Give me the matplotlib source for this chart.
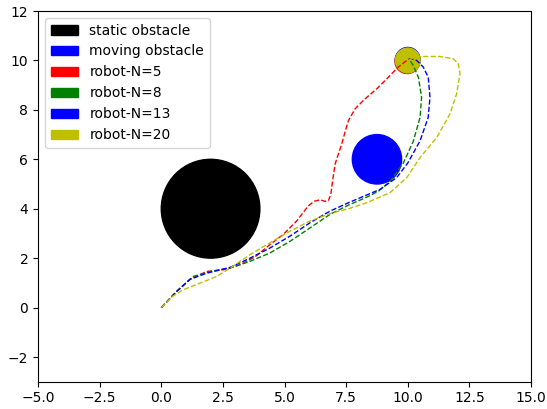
import matplotlib
matplotlib.use("Agg")
import matplotlib.pyplot as plt
import matplotlib.patches as mpatches

# obstacles and goal
static_center = (2.0, 4.0)
static_radius = 2.0
moving_center = (8.75, 6.0)
moving_radius = 1.0
goal_radius = 0.5

# final robot positions (drawn as circles at the goal)
final_pos = {
    "r": (9.98, 9.97),
    "g": (10.0, 10.0),
    "b": (10.0, 10.025),
    "y": (10.0, 10.0),
}

# robot trajectories
red_x = [0.0, 0.62, 1.16, 1.84, 2.52, 3.19, 3.8, 4.41, 4.95, 5.49, 5.96, 6.2, 6.44,
         6.64, 6.78, 6.88, 6.95, 7.05, 7.18, 7.32, 7.45, 7.59, 7.86, 8.26, 8.74,
         9.21, 9.61, 9.96]
red_y = [0.0, 0.65, 1.14, 1.46, 1.53, 1.73, 2.05, 2.55, 2.96, 3.5, 4.11, 4.3, 4.36,
         4.3, 4.32, 4.6, 5.12, 5.8, 6.2, 6.61, 7.09, 7.56, 8.04, 8.44, 8.85,
         9.32, 9.73, 10.0]

green_x = [0.0, 0.62, 1.3, 1.98, 2.8, 3.6, 4.41, 5.22, 6.03, 6.84, 7.6, 8.3, 8.8,
           9.3, 9.82, 10.22, 10.5, 10.56, 10.43, 10.22, 10.06]
green_y = [0.0, 0.65, 1.26, 1.46, 1.6, 1.87, 2.21, 2.68, 3.22, 3.77, 4.15, 4.45, 4.7,
           5.12, 5.85, 6.72, 7.7, 8.51, 9.32, 9.8, 10.05]

blue_x = [0.0, 0.62, 1.16, 1.84, 2.8, 3.6, 4.41, 5.22, 6.03, 6.84, 7.59, 8.06, 8.87,
          9.55, 10.0, 10.5, 10.83, 10.9, 10.83, 10.63, 10.36, 10.16, 10.0]
blue_y = [0.0, 0.65, 1.14, 1.39, 1.63, 2.0, 2.41, 2.89, 3.43, 3.9, 4.24, 4.44, 4.78,
          5.26, 5.85, 6.75, 7.7, 8.51, 9.32, 9.73, 10.0, 10.07, 10.05]

yellow_x = [0.0, 0.45, 0.89, 1.57, 2.25, 2.8, 3.6, 4.41, 5.22, 6.03, 6.84, 7.59, 8.33,
            9.28, 9.96, 10.5, 11.17, 11.71, 11.98, 12.12, 12.05, 11.85, 11.3, 10.63,
            10.22, 10.0]
yellow_y = [0.0, 0.45, 0.72, 0.99, 1.26, 1.6, 2.14, 2.62, 3.09, 3.5, 3.8, 4.0, 4.24,
            4.65, 5.26, 6.07, 6.88, 7.83, 8.64, 9.46, 9.86, 10.07, 10.16, 10.16,
            10.11, 10.0]

labels = ["static obstacle", "moving obstacle", "robot-N=5", "robot-N=8",
          "robot-N=13", "robot-N=20"]
label_colors = ["k", "b", "r", "g", "b", "y"]

fig = plt.figure(figsize=(5.47, 4.09), dpi=100)
ax = fig.add_axes([0.0695, 0.0667, 0.9013, 0.9064])

ax.add_patch(plt.Circle(static_center, static_radius, color="k"))
ax.add_patch(plt.Circle(moving_center, moving_radius, color="b"))
for c in ["r", "g", "b", "y"]:
    ax.add_patch(plt.Circle(final_pos[c], goal_radius, color=c))

ax.plot(red_x, red_y, "r--", linewidth=1)
ax.plot(green_x, green_y, "g--", linewidth=1)
ax.plot(blue_x, blue_y, "b--", linewidth=1)
ax.plot(yellow_x, yellow_y, "y--", linewidth=1)

ax.set_xlim(-5, 15)
ax.set_ylim(-3, 12)

handles = [mpatches.Patch(color=c, label=l) for c, l in zip(label_colors, labels)]
ax.legend(handles=handles, loc="upper left")

plt.savefig("out.png", dpi=100)
